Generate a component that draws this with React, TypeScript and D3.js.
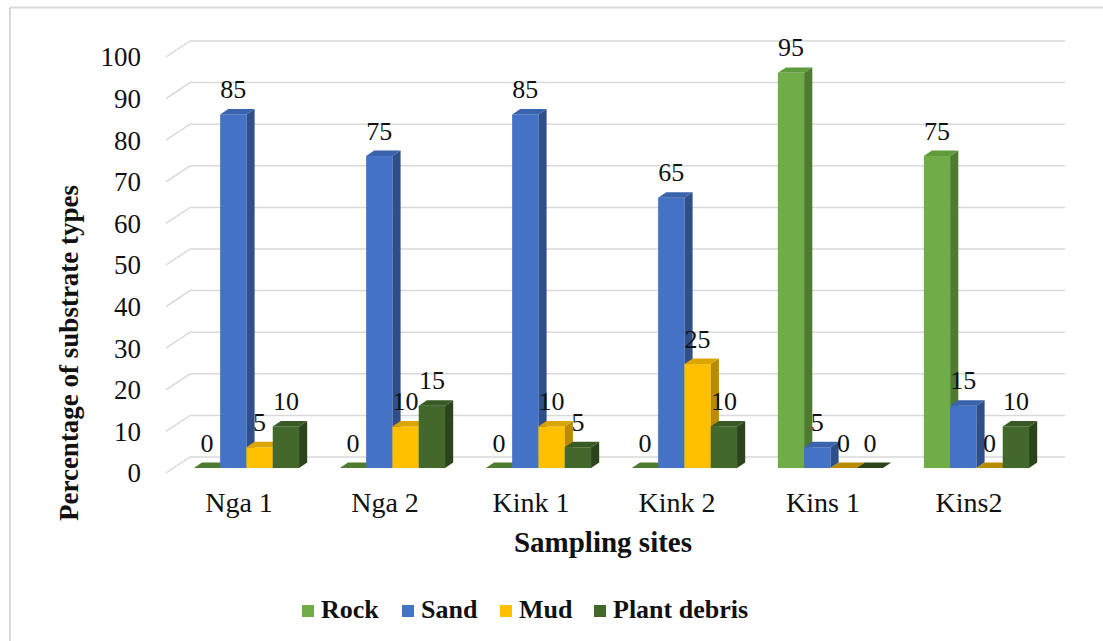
import React from "react";
import * as d3 from "d3";

const sites = ["Nga 1", "Nga 2", "Kink 1", "Kink 2", "Kins 1", "Kins2"];
const seriesNames = ["Rock", "Sand", "Mud", "Plant debris"];
const rock = [0, 0, 0, 0, 95, 75];
const sand = [85, 75, 85, 65, 5, 15];
const mud = [5, 10, 10, 25, 0, 0];
const plantDebris = [10, 15, 5, 10, 0, 10];
const yTicks = [0, 10, 20, 30, 40, 50, 60, 70, 80, 90, 100];

const seriesValues = [rock, sand, mud, plantDebris];
const palette = [
  { front: "#70AD47", side: "#4E7A31", top: "#5F9A3C" },
  { front: "#4472C4", side: "#2F4F8A", top: "#3A63AD" },
  { front: "#FFC000", side: "#B98B00", top: "#DBA500" },
  { front: "#43682B", side: "#2B441C", top: "#385A24" },
];

const FONT = "Liberation Serif";

function T(props: {
  x: number;
  y: number;
  anchor?: string;
  size: number;
  bold?: boolean;
  dy?: string;
  children: React.ReactNode;
}) {
  return (
    <text
      x={props.x}
      y={props.y}
      dy={props.dy}
      textAnchor={props.anchor ?? "start"}
      fontFamily={FONT}
      fontSize={props.size}
      fontWeight={props.bold ? "bold" : "normal"}
      fill="#111"
    >
      {props.children}
    </text>
  );
}

export default function App() {
  const W = 1103;
  const H = 641;
  const y = d3.scaleLinear().domain([0, 100]).range([473, 57]);
  const x = d3.scaleBand<string>().domain(sites).range([166, 1042]);
  const barW = 26.3;
  const inner = d3
    .scaleBand<string>()
    .domain(seriesNames)
    .range([-barW * 2, barW * 2]);
  const DX = 24;
  const DY = -16;
  const d0 = 0.31;
  const d1 = 0.65;

  const bars: React.ReactNode[] = [];
  const labels: React.ReactNode[] = [];
  sites.forEach((site, i) => {
    const cx = (x(site) ?? 0) + x.bandwidth() / 2;
    seriesNames.forEach((s, k) => {
      const v = seriesValues[k][i];
      const xl = cx + (inner(s) ?? 0) + DX * d0;
      const xr = xl + barW;
      const yb = y(0) + DY * d0;
      const yt = y(v) + DY * d0;
      const ddx = DX * (d1 - d0);
      const ddy = DY * (d1 - d0);
      const c = palette[k];
      bars.push(
        <g key={`${site}-${s}`}>
          {v > 0 && <rect x={xl} y={yt} width={barW} height={yb - yt} fill={c.front} />}
          {v > 0 && (
            <polygon
              points={`${xr},${yt} ${xr + ddx},${yt + ddy} ${xr + ddx},${yb + ddy} ${xr},${yb}`}
              fill={c.side}
            />
          )}
          <polygon
            points={`${xl},${yt} ${xl + ddx},${yt + ddy} ${xr + ddx},${yt + ddy} ${xr},${yt}`}
            fill={v > 0 ? c.top : c.side}
          />
        </g>
      );
      labels.push(
        <T key={`l-${site}-${s}`} x={xl + barW / 2} y={yt + ddy - 11} anchor="middle" size={26}>
          {v}
        </T>
      );
    });
  });

  const legendX = [302, 402, 500, 594];

  return (
    <svg
      width={W}
      height={H}
      style={{ position: "absolute", left: 0, top: 0, background: "#fff" }}
    >
      <line x1={10} y1={7.5} x2={1103} y2={7.5} stroke="#D9D9D9" strokeWidth={2} />
      <line x1={10} y1={7.5} x2={10} y2={641} stroke="#D9D9D9" strokeWidth={2} />
      {yTicks.map((t) => (
        <g key={t}>
          <polyline
            points={`${166},${y(t)} ${166 + DX},${y(t) + DY} ${1041 + DX},${y(t) + DY}`}
            fill="none"
            stroke="#D9D9D9"
            strokeWidth={1.5}
          />
          <T x={141} y={y(t)} dy="0.35em" anchor="end" size={27}>
            {t}
          </T>
        </g>
      ))}
      {bars}
      {labels}
      {sites.map((s) => (
        <T key={s} x={(x(s) ?? 0) + x.bandwidth() / 2} y={512} anchor="middle" size={28}>
          {s}
        </T>
      ))}
      <T x={603} y={552} anchor="middle" size={29} bold>
        Sampling sites
      </T>
      <text
        transform={`translate(78,353) rotate(-90)`}
        textAnchor="middle"
        fontFamily={FONT}
        fontSize={27}
        fontWeight="bold"
        fill="#111"
      >
        Percentage of substrate types
      </text>
      {seriesNames.map((s, k) => (
        <g key={s}>
          <rect x={legendX[k]} y={605} width={12} height={12} fill={palette[k].front} />
          <T x={legendX[k] + 19} y={618} size={26} bold>
            {s}
          </T>
        </g>
      ))}
    </svg>
  );
}
